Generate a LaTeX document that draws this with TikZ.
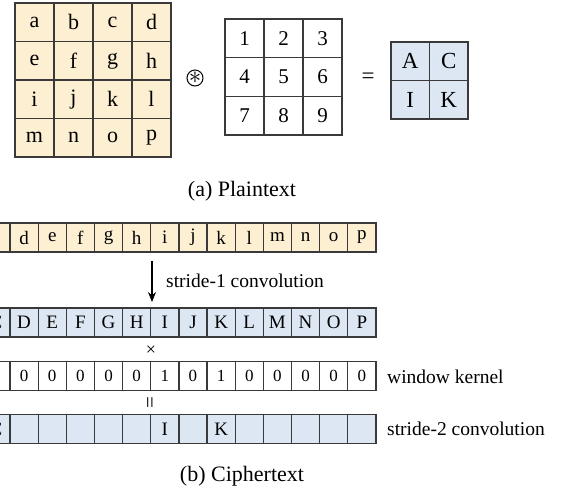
\documentclass[tikz,border=0pt]{standalone}
\usepackage{fontspec}
\setmainfont{Liberation Serif}
\usetikzlibrary{arrows.meta}
\definecolor{beige}{HTML}{FDF0D2}
\definecolor{lblue}{HTML}{DDE7F3}
\definecolor{edgec}{HTML}{3A3A3A}
\begin{document}
\begin{tikzpicture}[x=1pt,y=-1pt,
  cellbase/.style={draw=edgec,line width=1.3pt,inner sep=0pt},
  pcell/.style={cellbase,fill=beige,minimum width=39pt,minimum height=38.5pt,font=\fontsize{22}{26}\selectfont},
  kcell/.style={cellbase,fill=white,minimum width=39pt,minimum height=38.7pt,font=\fontsize{21}{25}\selectfont},
  ocell/.style={cellbase,fill=lblue,minimum width=38.5pt,minimum height=38.5pt,font=\fontsize{23}{27}\selectfont},
  scell/.style={cellbase,minimum width=28.15pt,minimum height=29pt,font=\fontsize{19}{23}\selectfont},
  lowrow/.style={scell,fill=beige},
  uprow/.style={scell,fill=lblue},
  kerrow/.style={scell,fill=white,font=\fontsize{17}{20}\selectfont},
  labeltext/.style={inner sep=0pt,anchor=west,font=\fontsize{19.5}{23}\selectfont},
  captext/.style={inner sep=0pt,font=\fontsize{22}{26}\selectfont},
  smallsym/.style={inner sep=0pt,font=\fontsize{18}{20}\selectfont}
]
\useasboundingbox (0,0) rectangle (562,491);
\clip (0,0) rectangle (562,491);

% 4x4 plaintext grid
\foreach \l [count=\i from 0] in {a,b,c,d,e,f,g,h,i,j,k,l,m,n,o,p}{
  \pgfmathtruncatemacro{\c}{mod(\i,4)}
  \pgfmathtruncatemacro{\r}{div(\i,4)}
  \node[pcell] (pl\i) at ({15+39*\c+19.5},{3+38.5*\r+19.25}) {\l};
}

% convolution operator
\node[circle,draw=black,line width=1pt,minimum size=16pt,inner sep=0pt] (conv) at (195,78) {};
\node[inner sep=0pt,font=\fontsize{26}{28}\selectfont] (convstar) at (195,78) {$\ast$};

% 3x3 kernel
\foreach \l [count=\i from 0] in {1,...,9}{
  \pgfmathtruncatemacro{\c}{mod(\i,3)}
  \pgfmathtruncatemacro{\r}{div(\i,3)}
  \node[kcell] (kn\i) at ({225+39*\c+19.5},{19+38.7*\r+19.35}) {\l};
}

\node[inner sep=0pt,font=\fontsize{23}{26}\selectfont] (eq) at (368,78) {=};

% 2x2 output
\foreach \l [count=\i from 0] in {A,C,I,K}{
  \pgfmathtruncatemacro{\c}{mod(\i,2)}
  \pgfmathtruncatemacro{\r}{div(\i,2)}
  \node[ocell] (out\i) at ({391+38.5*\c+19.25},{42+38.5*\r+19.25}) {\l};
}

\node[captext] (capa) at (242,191) {(a) Plaintext};

% strips (the first cells run off the left edge, as in the reference)
\foreach \l [count=\i from 2] in {c,d,e,f,g,h,i,j,k,l,m,n,o,p}{
  \node[lowrow] (sa\i) at ({-74.45+28.15*\i+14.075},237.5) {\l};
}
\foreach \l [count=\i from 2] in {C,D,E,F,G,H,I,J,K,L,M,N,O,P}{
  \node[uprow] (sb\i) at ({-74.45+28.15*\i+14.075},322.5) {\l};
}
\foreach \l [count=\i from 2] in {1,0,0,0,0,0,1,0,1,0,0,0,0,0}{
  \node[kerrow] (sc\i) at ({-74.45+28.15*\i+14.075},376) {\l};
}
\foreach \l [count=\i from 2] in {C,,,,,,I,,K,,,,,}{
  \node[uprow] (sd\i) at ({-74.45+28.15*\i+14.075},429) {\l};
}

% arrow
\coordinate (arrtop) at (152,261);
\coordinate (arrbot) at (152,302);
\draw[line width=1.3pt,-{Stealth[length=10pt,width=8pt]}] (arrtop) -- (arrbot);
\node[labeltext] (lab1) at (166,281) {stride-1 convolution};

\node[smallsym] (times) at (151,351) {×};
\node[smallsym,rotate=90,font=\fontsize{21}{22}\selectfont] (equ) at (152,403) {=};

\node[labeltext] (lab2) at (387,377) {window kernel};
\node[labeltext] (lab3) at (387,429) {stride-2 convolution};

\node[captext] (capb) at (242,476) {(b) Ciphertext};
\end{tikzpicture}
\end{document}
